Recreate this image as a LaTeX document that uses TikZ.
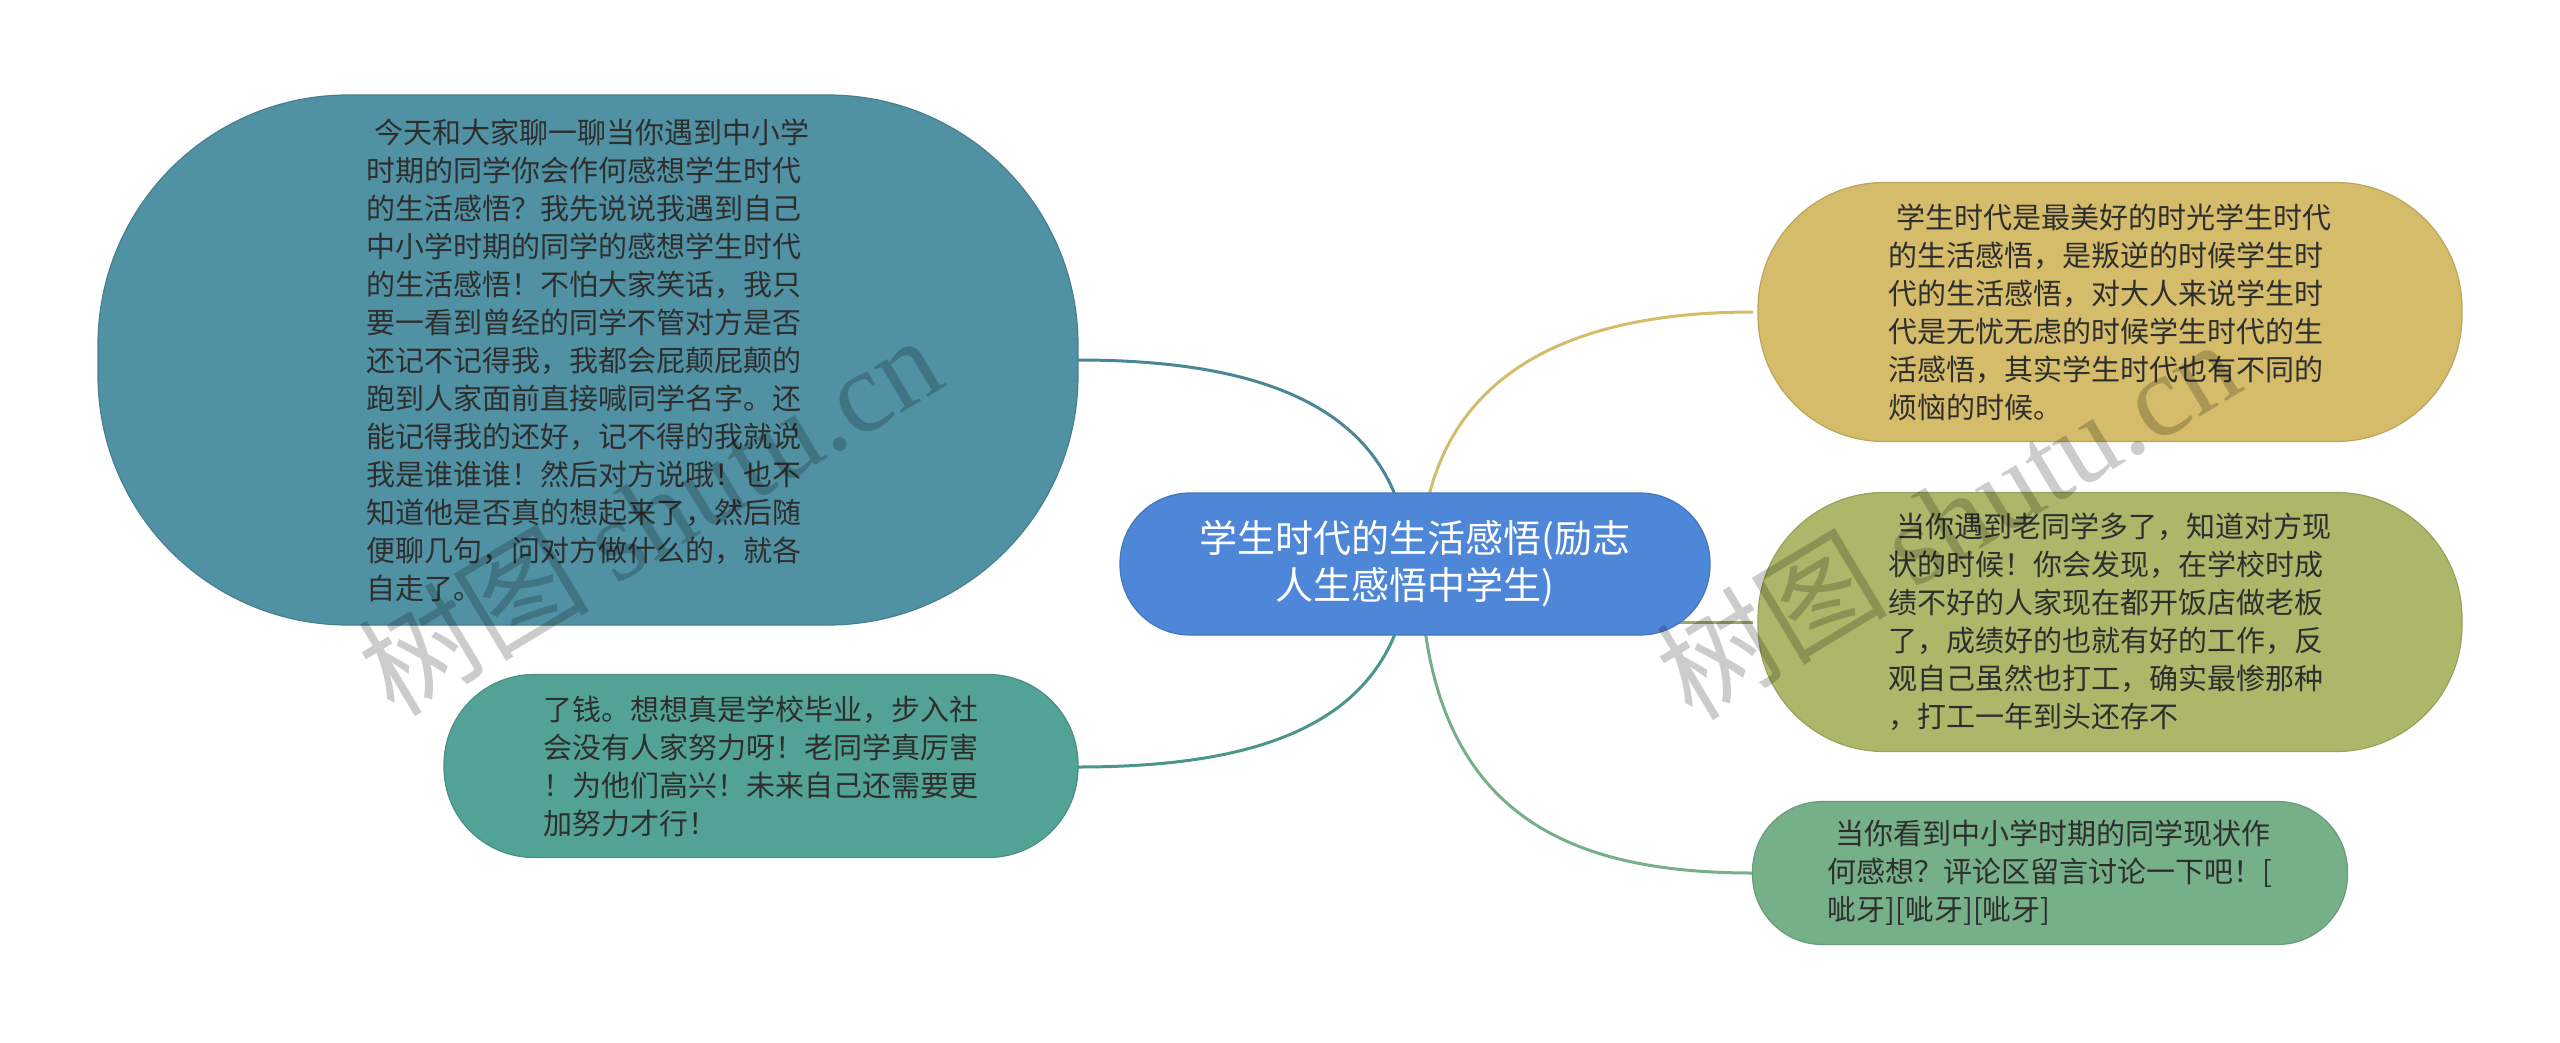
\documentclass[tikz,border=0pt]{standalone}
\usepackage{fontspec}
\setmainfont{Noto Sans CJK SC}
\newfontfamily\wmlatin{Liberation Serif}
\definecolor{cbig}{HTML}{5092A3}
\definecolor{cleft}{HTML}{52A396}
\definecolor{ccen}{HTML}{4E86D8}
\definecolor{cra}{HTML}{D4BC6A}
\definecolor{crb}{HTML}{ADB76A}
\definecolor{crc}{HTML}{76B088}
\definecolor{txtc}{HTML}{2E2E2E}
\begin{document}
\begin{tikzpicture}[x=1pt,y=-1pt,
  topic/.style={draw=#1!88!black, fill=#1, line width=1.2pt, text=txtc, align=left,
    inner sep=0pt, font=\fontsize{29}{38}\selectfont},
  centre/.style={draw=ccen!88!black, fill=ccen, line width=1.2pt, text=white, align=center,
    inner sep=0pt, font=\fontsize{38}{47}\selectfont},
  link/.style={line width=3pt, draw=#1},
  wmark/.style={text=black, text opacity=0.2, rotate=31, inner sep=0pt,
    font=\fontsize{116}{116}\selectfont},
]
\useasboundingbox (0,0) rectangle (2560,1042);

% coordinates for connector origins (hidden behind the central node)
\coordinate (oL) at (1410,564);
\coordinate (oR) at (1420,564);

% connector end points on the node edges
\coordinate (bigE) at (1077,360);
\coordinate (leftE) at (1077,767);
\coordinate (raW) at (1753,312);
\coordinate (rbW) at (1753,622);
\coordinate (rcW) at (1753,873);
\draw[link=cbig!92!black] (oL) .. controls (1400,400) and (1250,360) .. (bigE);
\draw[link=cleft!92!black] (oL) .. controls (1400,730) and (1250,767) .. (leftE);
\draw[link=cra] (oR) .. controls (1425,380) and (1560,312) .. (raW);
\draw[link=crb!92!black] (oR |- rbW) -- (rbW);
\draw[link=crc] (oR) .. controls (1425,810) and (1560,873) .. (rcW);

% nodes
\node[topic=cbig, minimum width=980pt, minimum height=530pt, rounded corners=250pt] (big) at (588,360)
{\hspace*{8pt}今天和大家聊一聊当你遇到中小学\\
时期的同学你会作何感想学生时代\\
的生活感悟？我先说说我遇到自己\\
中小学时期的同学的感想学生时代\\
的生活感悟！不怕大家笑话，我只\\
要一看到曾经的同学不管对方是否\\
还记不记得我，我都会屁颠屁颠的\\
跑到人家面前直接喊同学名字。还\\
能记得我的还好，记不得的我就说\\
我是谁谁谁！然后对方说哦！也不\\
知道他是否真的想起来了，然后随\\
便聊几句，问对方做什么的，就各\\
自走了。};

\node[topic=cleft, minimum width=634pt, minimum height=183pt, rounded corners=90pt] (left) at (761,766)
{了钱。想想真是学校毕业，步入社\\
会没有人家努力呀！老同学真厉害\\
！为他们高兴！未来自己还需要更\\
加努力才行！};

\node[centre, minimum width=590pt, minimum height=142pt, rounded corners=70pt] (cen) at (1415,564)
{学生时代的生活感悟(励志\\人生感悟中学生)};

\node[topic=cra, minimum width=704pt, minimum height=259pt, rounded corners=126pt] (ra) at (2110,312)
{\hspace*{8pt}学生时代是最美好的时光学生时代\\
的生活感悟，是叛逆的时候学生时\\
代的生活感悟，对大人来说学生时\\
代是无忧无虑的时候学生时代的生\\
活感悟，其实学生时代也有不同的\\
烦恼的时候。};

\node[topic=crb, minimum width=704pt, minimum height=259pt, rounded corners=126pt] (rb) at (2110,622)
{\hspace*{8pt}当你遇到老同学多了，知道对方现\\
状的时候！你会发现，在学校时成\\
绩不好的人家现在都开饭店做老板\\
了，成绩好的也就有好的工作，反\\
观自己虽然也打工，确实最惨那种\\
，打工一年到头还存不};

\node[topic=crc, minimum width=595pt, minimum height=143pt, rounded corners=70pt] (rc) at (2050,873)
{\hspace*{8pt}当你看到中小学时期的同学现状作\\
何感想？评论区留言讨论一下吧！[\\
呲牙][呲牙][呲牙]};

% watermarks
\node[wmark] (wm1) at (649,514) {树图 {\wmlatin shutu.cn}};
\node[wmark] (wm2) at (1947,518) {树图 {\wmlatin shutu.cn}};
\end{tikzpicture}
\end{document}
